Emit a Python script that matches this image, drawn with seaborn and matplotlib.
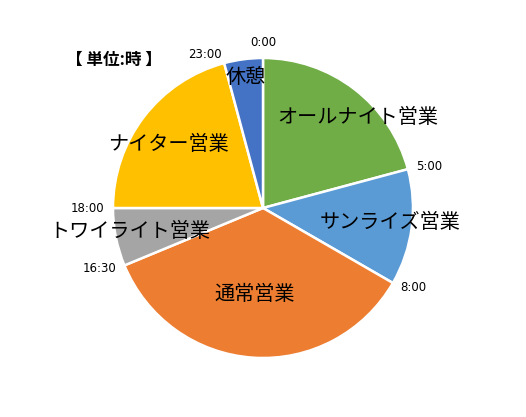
import matplotlib
matplotlib.use("Agg")
import matplotlib.pyplot as plt
import seaborn as sns
import numpy as np

sns.set_theme(style="white")
plt.rcParams['font.family'] = ['Noto Sans CJK JP', 'DejaVu Sans']

# Data (hours of a 24h day, clockwise from 0:00)
categories = ["オールナイト営業", "サンライズ営業", "通常営業", "トワイライト営業", "ナイター営業", "休憩"]
hours = [5, 3, 8.5, 1.5, 5, 1]
boundary_labels = ["0:00", "5:00", "8:00", "16:30", "18:00", "23:00"]
colors = ["#70AD47", "#5B9BD5", "#ED7D31", "#A5A5A5", "#FFC000", "#4472C4"]
unit_label = "【 単位:時 】"

W, H = 526, 417
fig = plt.figure(figsize=(W / 100, H / 100), dpi=100)
ax = fig.add_axes([0, 0, 1, 1])

cx, cy, R = 263, H - 208, 150
ax.pie(hours, colors=colors, startangle=90, counterclock=False,
       center=(cx, cy), radius=R,
       wedgeprops=dict(edgecolor="white", linewidth=1.8))
ax.set_xlim(0, W)
ax.set_ylim(0, H)
ax.set_aspect("equal")
ax.axis("off")

# boundary time labels
cum = np.concatenate([[0], np.cumsum(hours)[:-1]])
total = sum(hours)
for t, lab in zip(cum, boundary_labels):
    ang = 2 * np.pi * t / total
    s, c = np.sin(ang), np.cos(ang)
    x = cx + R * 1.06 * s
    y = cy + R * 1.06 * c
    if s > 0.1:
        ha, va = "left", "center"
    elif s < -0.1:
        ha, va = "right", "center"
    else:
        ha, va = "center", "bottom"
    ax.text(x, y, lab, ha=ha, va=va, fontsize=8.5, color="black",
            family=['DejaVu Sans'])

# category label positions (pixel coords from top-left)
label_pos = [(358, 117), (390, 222), (255, 295), (130, 231), (168, 144), (246, 77)]
for lab, (px, py) in zip(categories, label_pos):
    ax.text(px, H - py, lab, ha="center", va="center", fontsize=14.5, color="black")

ax.text(114, H - 60, unit_label, ha="center", va="center", fontsize=12,
        fontweight="bold", color="black")

fig.savefig("out.png", dpi=100, facecolor="white")
